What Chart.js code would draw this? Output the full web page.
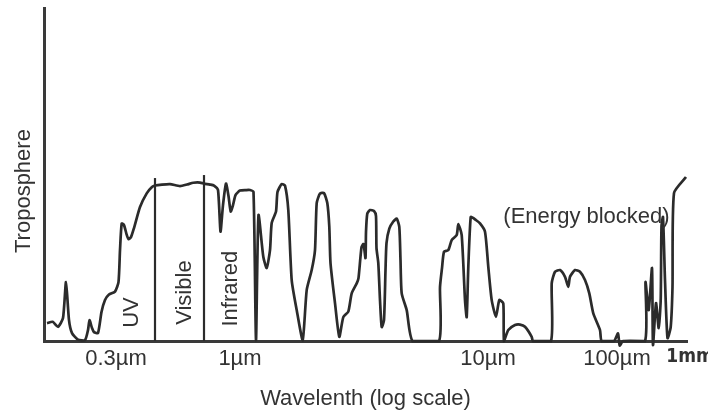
<!DOCTYPE html>
<html>
<head>
<meta charset="utf-8">
<script src="https://cdn.jsdelivr.net/npm/chart.js@4.4.1/dist/chart.umd.min.js"></script>
<style>
  html, body { margin:0; padding:0; background:#fff; }
  #wrap { width:708px; height:415px; }
</style>
</head>
<body>
<div id="wrap"><canvas id="chart" width="708" height="415"></canvas></div>
<script>
// positions along the (hand drawn) wavelength axis, and relative transmission
const curveX = [3, 8.7, 14, 19, 22, 25, 28, 34, 41, 44, 45.5, 48, 50, 54, 57.5, 61, 65, 71, 74.5, 76, 77.7, 80, 82.5, 84.5, 87, 90, 96, 102.7, 108, 111,
  118, 126, 136, 143, 149.3, 156, 160, 166, 170, 174, 176.5, 179, 182, 184.5, 186.7, 189, 191.5, 196, 202, 206, 209.5, 212, 214.5,
  219.3, 222.7, 226, 227.7, 232, 233.5, 237.7, 241, 244.3, 247.7, 252.7, 258.7, 262.7, 267.7, 271, 272.7, 276, 280, 283.3, 285.3, 286.5, 291, 295.3,
  299.3, 304.3, 307.7, 312.7, 314.5, 317.5, 319.5, 321.5, 322, 323.3, 326, 330, 332, 332.5, 334.3, 336, 337.7, 340, 341.5, 342.5, 345.3, 349.3, 352.7,
  355.3, 356.5, 357.7, 362.7, 368.7, 395, 396, 398, 400, 404.3, 407.7, 412.7, 414.3, 417.7, 421, 422.7, 424.3, 426.7, 429.3, 431, 436, 441, 444.3,
  447.7, 452, 455.3, 459.3, 460, 464.3, 471, 476, 481, 487.7, 489, 507, 507.7, 511, 516, 521, 524.3, 526, 531, 536, 541, 545.3, 549.3, 556, 557.7,
  570, 574, 575.7, 579, 601, 601.5, 604.7, 608, 609, 612, 614.7, 616.7, 617.5, 619, 621, 623.5, 626.7, 628.5, 630, 642];
const curveY = [18, 19.3, 14.3, 23, 59, 21, 8, 1.5, 1, 11, 21, 13, 9, 8, 29, 41, 46.5, 49.5, 59, 91, 117.5, 116, 107, 102, 104, 113, 134, 147.7, 154, 155.5,
  156.5, 157, 155, 156.5, 158.3, 158.5, 157.5, 156.5, 155.5, 151, 109.5, 136, 157.5, 145, 129.5, 136, 146, 150.5, 151, 151, 149, 1, 126,
  84.3, 73, 91, 118, 129.5, 149, 157, 155.5, 131, 61, 31, 1, 51, 71, 91, 138, 147.5, 148, 138, 114.3, 78, 38, 4.3,
  24, 29.5, 47.7, 57.7, 63, 94, 97, 83, 109, 127.5, 131, 130, 125, 93, 78, 41, 14, 21, 71, 98, 112.5, 119.5, 122.5,
  114.3, 81, 47.7, 31, 0, 0, 54, 73, 89.3, 91, 101, 106, 117, 106, 41, 24, 74, 124, 123, 121.7, 117.7, 109.3, 74.3,
  41, 24.3, 41, 37.7, 0, 11, 16, 16.5, 14.3, 4.3, 0, 0, 57.7, 69.3, 71, 64.3, 54.3, 64.3, 71, 69.3, 61, 47.7, 27.7, 11, 0,
  0, 7.7, -4.5, 0, 0, 59, 31, 73, -4, 38, 13, 41, 115, 124, 61, 3, 14, 54, 148, 164];

// band borders (UV | Visible | Infrared)
const bandX = [111, 160];
const bandTop = [163, 166];

const tickPos = [72, 196, 444, 573, 646];
const tickLabels = ["0.3µm", "1µm", "10µm", "100µm", "1mm"];

// rotated band names + note
const bandNames = ["UV", "Visible", "Infrared"];
const bandNameX = [87.5, 141, 187];
const bandNameY = [28.5, 48.5, 52.5];
const noteText = "(Energy blocked)";
const noteX = 542.5, noteY = 124.5;
const yTitle = "Troposphere";
const xTitle = "Wavelenth (log scale)";

const INK = "#2b2b2b";
const TXT = "#333";
const FONT = "'Liberation Sans', Arial, sans-serif";

const curve = curveX.map((x, i) => ({ x, y: curveY[i] }));
const bandSets = bandX.map((x, i) => ({
  data: [{ x, y: 0 }, { x, y: bandTop[i] }],
  borderColor: INK, borderWidth: 2.2, pointRadius: 0, tension: 0
}));

const labelsPlugin = {
  id: "labels",
  afterDatasetsDraw(chart) {
    const { ctx, scales: { x, y }, chartArea } = chart;
    ctx.save();
    ctx.fillStyle = TXT;
    ctx.font = `22px ${FONT}`;
    ctx.textAlign = "center";
    ctx.textBaseline = "middle";

    bandNames.forEach((t, i) => {
      ctx.save();
      ctx.translate(x.getPixelForValue(bandNameX[i]), y.getPixelForValue(bandNameY[i]));
      ctx.rotate(-Math.PI / 2);
      ctx.fillText(t, 0, 0);
      ctx.restore();
    });

    ctx.fillText(noteText, x.getPixelForValue(noteX), y.getPixelForValue(noteY));

    // y title, sits a bit below the middle of the axis
    ctx.save();
    ctx.translate(chartArea.left - 20, y.getPixelForValue(150));
    ctx.rotate(-Math.PI / 2);
    ctx.fillText(yTitle, 0, 0);
    ctx.restore();
    ctx.restore();
  }
};

new Chart(document.getElementById("chart"), {
  type: "line",
  data: {
    datasets: [
      { data: curve, borderColor: INK, borderWidth: 2.7, pointRadius: 0, tension: 0.2, clip: false },
      ...bandSets
    ]
  },
  options: {
    responsive: false,
    animation: false,
    layout: { padding: { left: 44, right: 21, top: 8, bottom: 0 } },
    plugins: { legend: { display: false }, tooltip: { enabled: false } },
    scales: {
      x: {
        type: "linear",
        min: 0,
        max: 643,
        grid: { display: false, drawTicks: false },
        border: { display: true, color: "#3a3a3a", width: 3 },
        afterBuildTicks: (scale) => { scale.ticks = tickPos.map(v => ({ value: v })); },
        afterFit: (scale) => { scale.paddingLeft = 0; scale.paddingRight = 0; },
        ticks: {
          autoSkip: false,
          maxRotation: 0,
          padding: 5,
          color: TXT,
          font: (c) => c.index === 4
            ? { family: "'Liberation Sans Narrow', 'DejaVu Sans Condensed', sans-serif", size: 19, weight: "bold" }
            : { family: FONT, size: 22 },
          callback: (v, i) => tickLabels[i]
        },
        title: {
          display: true,
          text: xTitle,
          color: TXT,
          font: { family: FONT, size: 22 },
          padding: { top: 8.6, bottom: 2.5 }
        }
      },
      y: {
        min: 0,
        max: 333,
        grid: { display: false, drawTicks: false },
        border: { display: true, color: "#3a3a3a", width: 3 },
        ticks: { display: false }
      }
    }
  },
  plugins: [labelsPlugin]
});
</script>
</body>
</html>
